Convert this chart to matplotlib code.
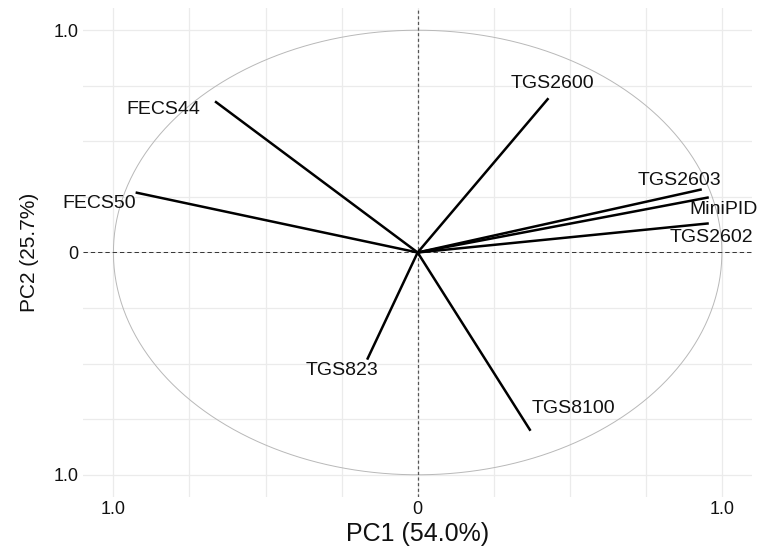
import numpy as np
from matplotlib import pyplot as plt

# loadings
sensors = ["FECS44", "FECS50", "TGS2600", "TGS2603", "MiniPID", "TGS2602", "TGS823", "TGS8100"]
pc1 = [-0.666, -0.927, 0.430, 0.934, 0.957, 0.957, -0.166, 0.371]
pc2 = [0.680, 0.270, 0.694, 0.284, 0.248, 0.131, -0.482, -0.802]

pc1_label = "PC1 (54.0%)"
pc2_label = "PC2 (25.7%)"
tick_vals = [-1, 0, 1]
tick_text = ["1.0", "0", "1.0"]

# label offsets from the arrow tip, in pixels (dx, dy up)
offsets = {
    "FECS44": (-52, -8),
    "FECS50": (-36, -11),
    "TGS2600": (4, 15),
    "TGS2603": (-22, 9),
    "MiniPID": (15, -12),
    "TGS2602": (3, -14),
    "TGS823": (-25, -11),
    "TGS8100": (43, 22),
}

plt.rcParams['font.family'] = ['Liberation Sans', 'DejaVu Sans']

fig = plt.figure(figsize=(7.77, 5.47), dpi=100)
ax = fig.add_axes([0.1068, 0.0914, 0.8614, 0.894])

ax.set_xlim(-1.1, 1.1)
ax.set_ylim(-1.1, 1.1)

grid = np.arange(-1, 1.01, 0.25)
for g in grid:
    ax.axvline(g, color="#ebebeb", lw=0.9, zorder=0)
    ax.axhline(g, color="#ebebeb", lw=0.9, zorder=0)

theta = np.linspace(0, 2 * np.pi, 400)
ax.plot(np.cos(theta), np.sin(theta), color="#b8b8b8", lw=0.7, zorder=1)

ax.axhline(0, color="#333333", lw=0.7, linestyle=(0, (4.5, 3)), zorder=2)
ax.axvline(0, color="#555555", lw=0.9, linestyle=(0, (2.5, 2)), zorder=2)

for name, x, y in zip(sensors, pc1, pc2):
    ax.plot([0, x], [0, y], color="black", lw=1.8, solid_capstyle="butt", zorder=3)
    dx, dy = offsets[name]
    ax.annotate(name, (x, y), xytext=(dx * 0.72, dy * 0.72), textcoords="offset points",
                ha="center", va="center", fontsize=14, color="#111111")

ax.set_xticks(tick_vals)
ax.set_xticklabels(tick_text)
ax.set_yticks(tick_vals)
ax.set_yticklabels(tick_text)
ax.tick_params(length=0, labelsize=13, colors="#111111", pad=3)
for s in ax.spines.values():
    s.set_visible(False)

ax.set_xlabel(pc1_label, fontsize=18, color="#111111", labelpad=3)
ax.set_ylabel(pc2_label, fontsize=15, color="#111111", labelpad=11)

fig.savefig("out.png", dpi=100)
